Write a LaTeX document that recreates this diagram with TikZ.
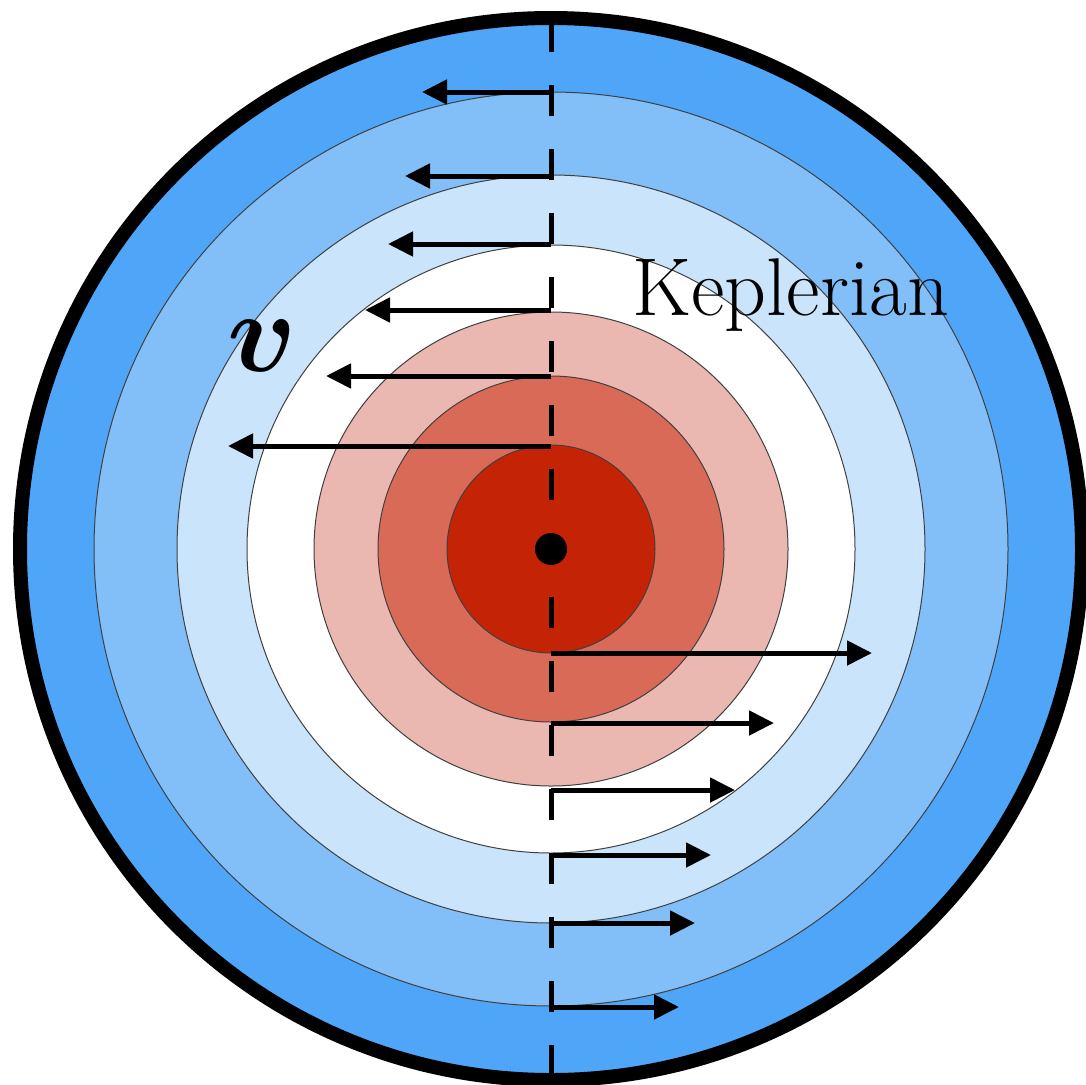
\RequirePackage{fix-cm}
\documentclass[tikz,border=0pt]{standalone}
\usepackage{bm}
\usetikzlibrary{arrows.meta}
\definecolor{blueA}{RGB}{79,166,248}
\definecolor{blueB}{RGB}{130,190,248}
\definecolor{blueC}{RGB}{202,228,251}
\definecolor{redA}{RGB}{234,184,176}
\definecolor{redB}{RGB}{217,106,87}
\definecolor{redC}{RGB}{196,36,5}
\tikzset{
  ring/.style={draw=black!75, line width=1pt},
  velarrow/.style={line width=5pt, -{Triangle[length=25pt,width=24pt]}},
}
\begin{document}
\begin{tikzpicture}[x=1pt,y=-1pt]
\useasboundingbox (0,0) rectangle (1086,1084);
\coordinate (c) at (551,549);
% discs
\fill[blueA] (c) circle (531);
\filldraw[ring, fill=blueB] (c) circle (457);
\filldraw[ring, fill=blueC] (c) circle (374);
\filldraw[ring, fill=white] (c) circle (304);
\filldraw[ring, fill=redA] (c) circle (237);
\filldraw[ring, fill=redB] (c) circle (173);
\filldraw[ring, fill=redC] (c) circle (104);
% outer thick border
\draw[line width=14pt] (c) circle (531);
% dashed axis
\coordinate (top) at (551,21);
\coordinate (bot) at (551,1084);
\draw[line width=5pt, dash pattern=on 31pt off 33pt] (top) -- (bot);
% centre dot
\fill (c) circle (16);
% left-going arrows
\foreach \y/\x in {92/422, 176/405, 244/388, 310/365, 376/326, 446/228}{
  \draw[velarrow] (551,\y) -- (\x,\y);
}
% right-going arrows
\foreach \y/\x in {653/872, 723/774, 790/735, 855/711, 923/695, 1007/679}{
  \draw[velarrow] (551,\y) -- (\x,\y);
}
% labels
\node[anchor=base west, inner sep=0pt, font=\fontsize{82}{82}\selectfont] (kep) at (632,315) {Keplerian};
\node[anchor=base, inner sep=0pt, font=\fontsize{115}{115}\selectfont] (vel) at (262,371) {$\bm{v}$};
\end{tikzpicture}
\end{document}
